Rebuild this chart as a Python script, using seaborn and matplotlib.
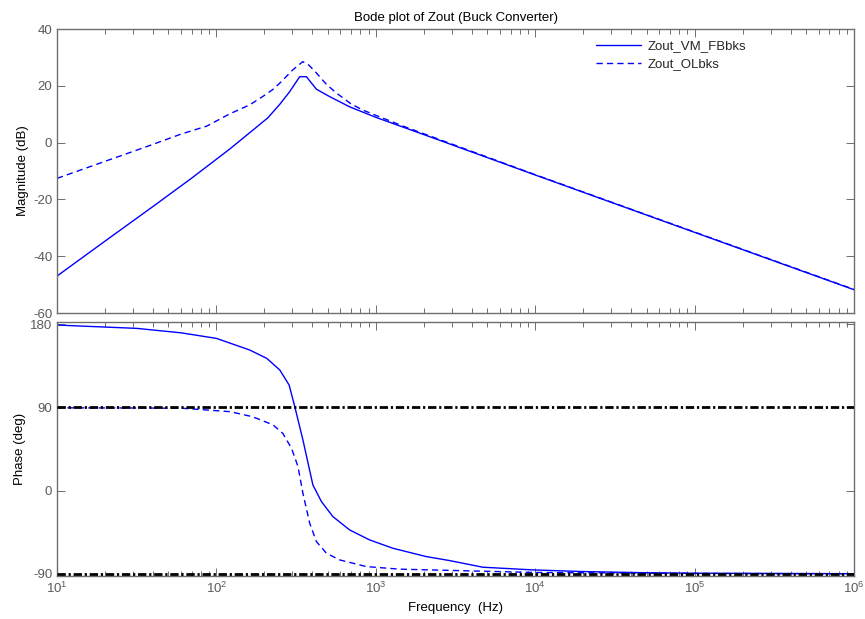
import numpy as np
import pandas as pd
import matplotlib
matplotlib.use("Agg")
import matplotlib.pyplot as plt
import matplotlib.ticker as mticker
import seaborn as sns

# Output impedance of the buck converter: feedback (VM) vs open loop
fb_name = "Zout_VM_FBbks"
ol_name = "Zout_OLbks"

# Magnitude (dB)
mag_fb_freq = [10, 20, 40, 70, 121, 179, 210, 250, 288, 333, 367, 424, 513, 685,
               1000, 2173, 1e4, 1e5, 1e6]
mag_fb_db = [-47.0, -34.7, -22.5, -12.5, -2.3, 5.5, 8.7, 13.5, 17.9, 23.2, 23.2, 18.8,
             16.2, 12.6, 8.9, 2.1, -11.4, -31.6, -51.8]

mag_ol_freq = [10, 20, 36.6, 60, 87, 121, 162, 195, 230, 261, 300, 348, 380, 426,
               490, 568, 700, 826, 1000, 1500, 1e4, 1e5, 1e6]
mag_ol_db = [-12.6, -6.6, -1.4, 3.0, 5.8, 10.1, 13.3, 16.2, 19.0, 22.0, 25.5, 28.5,
             27.3, 24.4, 20.5, 17.4, 13.6, 11.5, 9.6, 5.7, -11.3, -31.5, -51.7]

# Phase (deg)
ph_fb_freq = [10, 31.7, 60, 100, 162, 207, 250, 286, 311, 349, 403, 456, 538, 685,
              914, 1279, 2070, 2897, 4688, 9640, 19860, 5e4, 1e5, 1e6]
ph_fb_deg = [178.9, 175.3, 170.5, 164.5, 151.9, 142.9, 130.3, 114.0, 90.0, 54.7, 6.1,
             -11.9, -28.1, -42.5, -53.3, -62.3, -71.3, -75.6, -82.8, -85.7, -87.5,
             -88.8, -89.3, -89.8]

ph_ol_freq = [10, 40, 62, 122, 162, 179, 227, 261, 296, 325, 349, 385, 424, 490,
              593, 871, 1409, 3190, 1e4, 1e5, 1e6]
ph_ol_deg = [89.5, 89.2, 88.9, 85.3, 80.5, 78.1, 70.9, 61.9, 45.7, 25.9, -2.9, -35.3,
             -55.1, -67.7, -74.9, -82.1, -84.9, -86.4, -88.5, -89.5, -89.9]

phase_refs = [90, -90]

mag_df = pd.concat([
    pd.DataFrame({"freq": mag_fb_freq, "val": mag_fb_db, "series": fb_name}),
    pd.DataFrame({"freq": mag_ol_freq, "val": mag_ol_db, "series": ol_name}),
], ignore_index=True)
ph_df = pd.concat([
    pd.DataFrame({"freq": ph_fb_freq, "val": ph_fb_deg, "series": fb_name}),
    pd.DataFrame({"freq": ph_ol_freq, "val": ph_ol_deg, "series": ol_name}),
], ignore_index=True)

sns.set_style("ticks")
plt.rcParams["font.family"] = ["Liberation Sans", "DejaVu Sans"]
plt.rcParams["mathtext.fontset"] = "custom"
plt.rcParams["mathtext.rm"] = "Liberation Sans"
plt.rcParams["mathtext.it"] = "Liberation Sans:italic"
plt.rcParams["axes.unicode_minus"] = False

axis_gray = "#6e6e6e"
label_gray = "#5a5a5a"
fs = 9.5

fig = plt.figure(figsize=(8.65, 6.19), dpi=100)
ax1 = fig.add_axes([57 / 865, 1 - 313 / 619, (854 - 57) / 865, (313 - 29) / 619])
ax2 = fig.add_axes([57 / 865, 1 - 576 / 619, (854 - 57) / 865, (576 - 322) / 619])

palette = {fb_name: (0, 0, 1), ol_name: (0, 0, 1)}
dashes = {fb_name: "", ol_name: (4.5, 3)}

sns.lineplot(data=mag_df, x="freq", y="val", hue="series", style="series",
             palette=palette, dashes=dashes, estimator=None, lw=1.0, ax=ax1,
             legend=True)
sns.lineplot(data=ph_df, x="freq", y="val", hue="series", style="series",
             palette=palette, dashes=dashes, estimator=None, lw=1.0, ax=ax2,
             legend=False)

for y in phase_refs:
    ax2.axhline(y, color="black", lw=2.0, linestyle=(0, (3.0, 1.0, 0.8, 1.0)), zorder=3)

for ax in (ax1, ax2):
    ax.set_xscale("log")
    ax.set_xlim(10, 1e6)
    ax.tick_params(which="both", direction="in", top=True, right=True,
                   color=axis_gray, labelcolor=label_gray, labelsize=fs, width=0.7)
    ax.tick_params(which="major", length=6)
    ax.tick_params(which="minor", length=3.3)
    ax.xaxis.set_minor_locator(mticker.LogLocator(base=10, subs=np.arange(2, 10)))
    ax.xaxis.set_minor_formatter(mticker.NullFormatter())
    for s in ax.spines.values():
        s.set_color(axis_gray)
        s.set_linewidth(1.0)
    ax.grid(False)

ax1.set_ylim(-60, 40)
ax1.set_yticks([40, 20, 0, -20, -40, -60])
ax1.set_xticklabels([])
ax1.tick_params(axis="x", which="both", labelbottom=False)
ax1.set_xlabel("")
ax1.set_ylabel("Magnitude (dB)", fontsize=fs, color="black", labelpad=3)
ax1.set_title("Bode plot of Zout (Buck Converter)", fontsize=fs, color="black", pad=6)

ax2.set_ylim(-92.3, 182.2)
ax2.set_yticks([180, 90, 0, -90])
ax2.xaxis.set_major_locator(mticker.LogLocator(base=10, numticks=10))
ax2.xaxis.set_major_formatter(mticker.LogFormatterSciNotation())
ax2.set_xlabel("Frequency  (Hz)", fontsize=fs, color="black", labelpad=4)
ax2.set_ylabel("Phase (deg)", fontsize=fs, color="black", labelpad=3)

handles, labels = ax1.get_legend_handles_labels()
ax1.legend(handles, labels, loc="upper left", bbox_to_anchor=(596 / 865, 1 - 40 / 619),
           bbox_transform=fig.transFigure, frameon=False, fontsize=fs,
           borderpad=0, borderaxespad=0, handlelength=3.4, handletextpad=0.5,
           labelspacing=0.45)

fig.savefig("out.png", dpi=100)
